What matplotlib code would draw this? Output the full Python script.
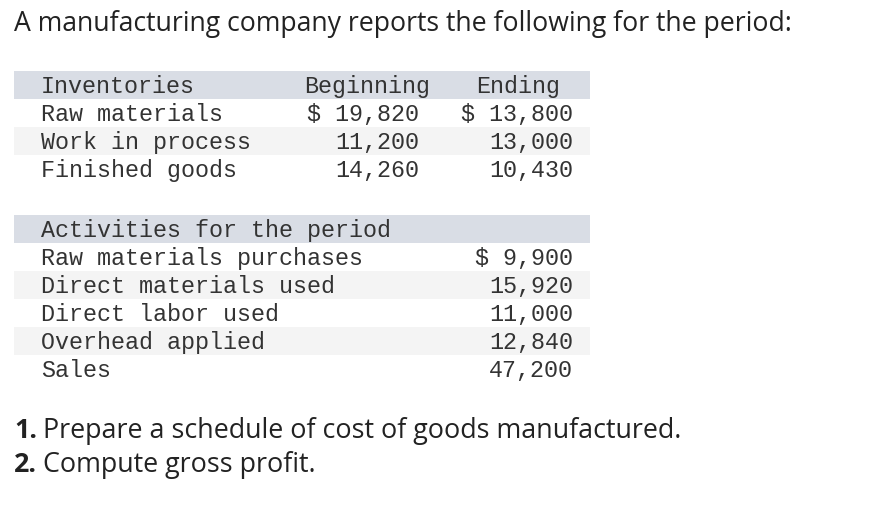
import matplotlib.pyplot as plt
from matplotlib.patches import Rectangle

title = "A manufacturing company reports the following for the period:"

inv_header = ["Inventories", "Beginning", "Ending"]
inv_items = ["Raw materials", "Work in process", "Finished goods"]
inv_begin = [19820, 11200, 14260]
inv_end = [13800, 13000, 10430]

act_header = "Activities for the period"
act_items = ["Raw materials purchases", "Direct materials used",
             "Direct labor used", "Overhead applied", "Sales"]
act_values = [9900, 15920, 11000, 12840, 47200]

questions = [("1.", "Prepare a schedule of cost of goods manufactured."),
             ("2.", "Compute gross profit.")]

W, H = 878, 512
fig = plt.figure(figsize=(W / 100, H / 100), dpi=100)
ax = fig.add_axes([0, 0, 1, 1])
ax.set_xlim(0, W)
ax.set_ylim(H, 0)
ax.axis('off')
renderer = fig.canvas.get_renderer()

sans = 'Open Sans'
mono = 'Liberation Mono'
dark = '#222222'
mono_col = '#333333'
band = '#d9dde5'
stripe = '#f4f4f4'
row_h = 28
mono_size = 16.8


def money(v, dollar):
    s = f"{v:,}"
    return "$ " + s if dollar else s


def fit(t, width):
    # scale font so the text spans the same width as in the picture
    w = t.get_window_extent(renderer).width
    t.set_fontsize(t.get_fontsize() * width / w)


def mtext(x, y, s, ha='left'):
    ax.text(x, y, s, family=mono, fontsize=mono_size, color=mono_col, va='baseline', ha=ha)


t = ax.text(14, 31, title, fontsize=17, family=sans, color=dark, va='baseline')
fit(t, 781)

# inventories table
top = 71
ax.add_patch(Rectangle((14, top), 576, row_h, color=band, lw=0))
mtext(41, top + 22, inv_header[0])
mtext(367, top + 22, inv_header[1], 'center')
mtext(518, top + 22, inv_header[2], 'center')
for i, name in enumerate(inv_items):
    y = top + row_h * (i + 1)
    if i % 2 == 1:
        ax.add_patch(Rectangle((14, y), 576, row_h, color=stripe, lw=0))
    mtext(41, y + 22, name)
    mtext(419, y + 22, money(inv_begin[i], i == 0), 'right')
    mtext(573, y + 22, money(inv_end[i], i == 0), 'right')

# activities table
top = 215
ax.add_patch(Rectangle((14, top), 576, row_h, color=band, lw=0))
mtext(41, top + 22, act_header)
for i, name in enumerate(act_items):
    y = top + row_h * (i + 1)
    if i % 2 == 1:
        ax.add_patch(Rectangle((14, y), 576, row_h, color=stripe, lw=0))
    mtext(41, y + 22, name)
    mtext(573, y + 22, money(act_values[i], i == 0), 'right')

# questions
q_size = None
for k, (num, txt) in enumerate(questions):
    yb = 438 + 34 * k
    n = ax.text(14, yb, num, family=sans, fontsize=15, weight='bold', color=dark, va='baseline')
    bb = n.get_window_extent(renderer)
    r = ax.text(bb.x1 + 6, yb, txt, family=sans, fontsize=15, color=dark, va='baseline')
    if k == 0:
        full = r.get_window_extent(renderer).x1 - 14
        q_size = 15 * 671 / full
    n.set_fontsize(q_size)
    bb = n.get_window_extent(renderer)
    r.set_fontsize(q_size)
    r.set_x(bb.x1 + 6)

fig.savefig('out.png', dpi=100, facecolor='white')
